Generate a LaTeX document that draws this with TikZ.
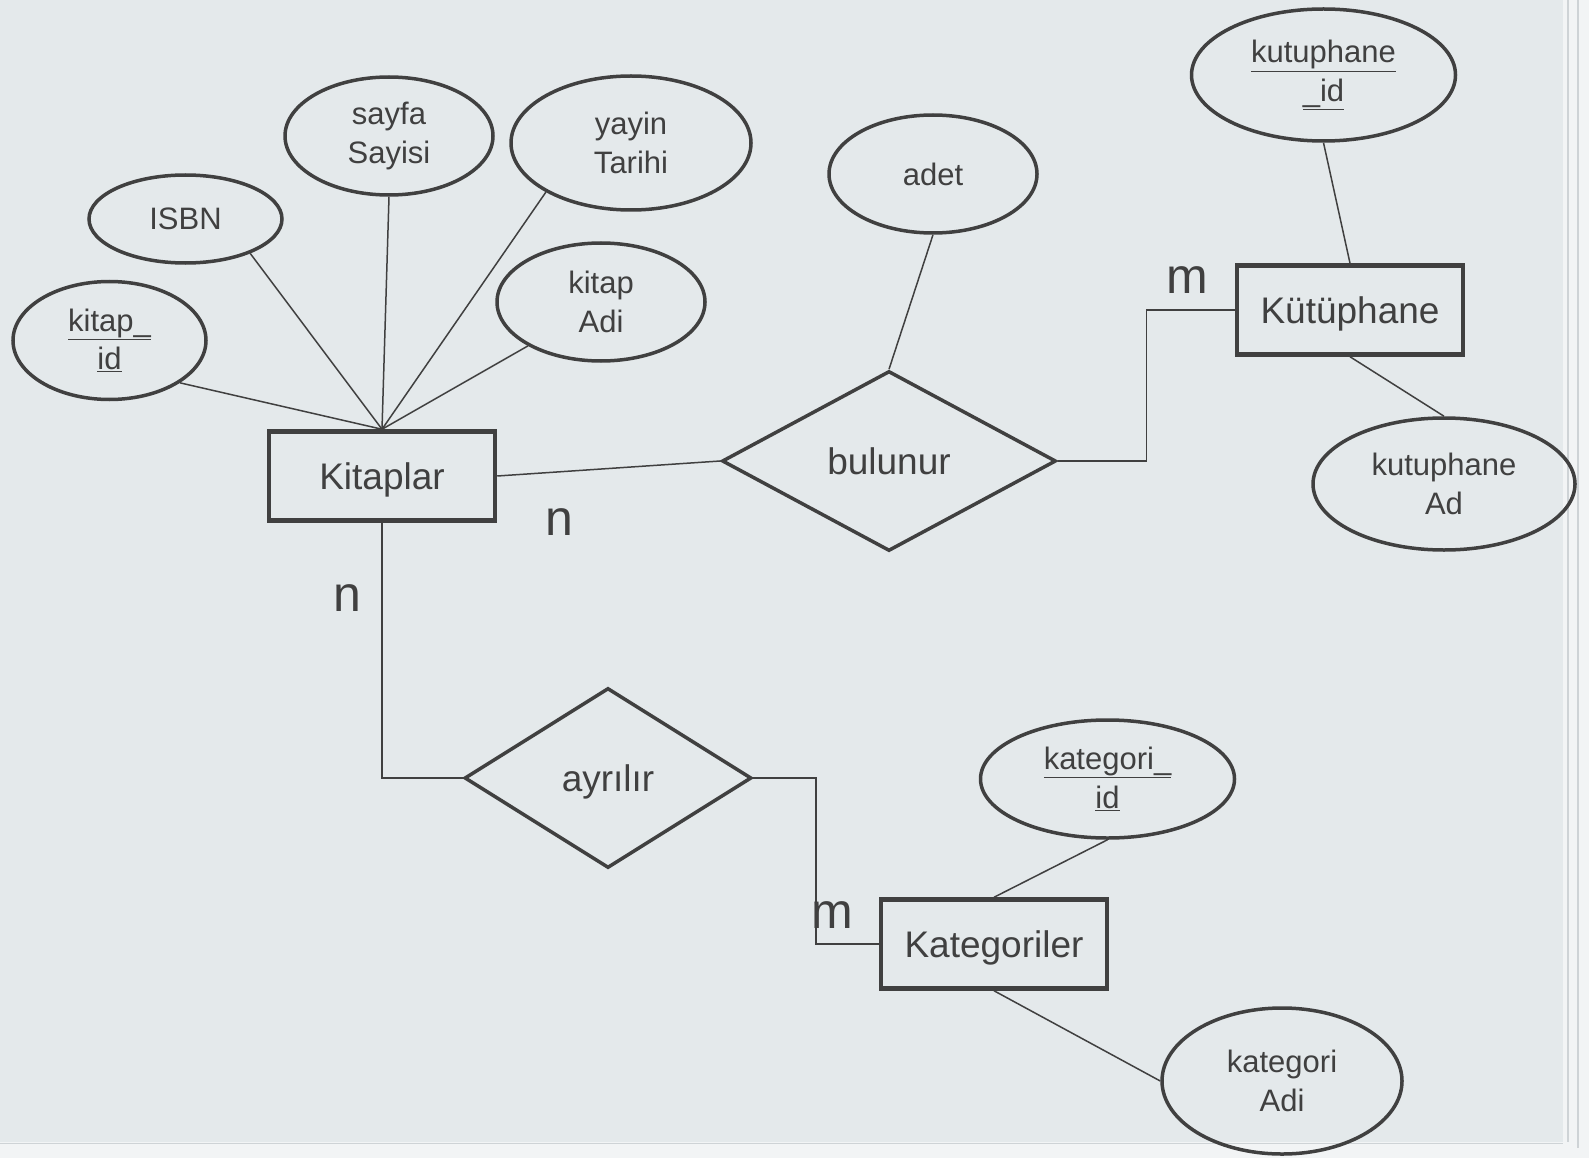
\documentclass[tikz,border=0pt]{standalone}
\usepackage{fontspec}
\setmainfont{Liberation Sans}
\usepackage{xcolor}
\usepackage{tikz}
\usetikzlibrary{shapes.geometric,calc}
\definecolor{ink}{RGB}{64,64,64}
\definecolor{panel}{RGB}{228,233,235}
\definecolor{paper}{RGB}{242,244,245}
\definecolor{rim}{RGB}{206,211,214}

\begin{document}
\begin{tikzpicture}[x=1pt,y=-1pt,
    attr/.style={draw=ink,line width=3.5pt,ellipse,inner sep=0pt,text=ink,align=center,font=\fontsize{31}{38.5}\selectfont},
    ent/.style={draw=ink,line width=4.5pt,rectangle,minimum width=226pt,minimum height=89pt,text depth=0pt,text=ink,font=\fontsize{37}{44}\selectfont},
    relbox/.style={draw=ink,line width=3.5pt,diamond,inner sep=0pt,text depth=0pt,text=ink,font=\fontsize{37}{44}\selectfont},
    card/.style={text=ink,inner sep=0pt,font=\fontsize{50}{60}\selectfont},
    link/.style={draw=ink,line width=1.5pt}]
  \useasboundingbox (0,0) rectangle (1589,1158);
  \fill[paper] (0,0) rectangle (1589,1158);
  \fill[panel] (0,0) rectangle (1563,1142);
  \draw[rim,line width=1.5pt] (1568,0) -- (1568,1142);
  \draw[rim,line width=1.5pt] (1578,0) -- (1578,1148);
  \draw[rim,line width=1pt] (0,1143) -- (1563,1143);

  \begin{scope}
    \node[ent] (kit) at (382,476) {Kitaplar};
    \node[attr,minimum width=193pt,minimum height=118pt] (kid) at (109.5,340.5) {\underline{kitap\_}\\\underline{id}};
    \node[attr,minimum width=193pt,minimum height=88pt] (isbn) at (185.5,219) {ISBN};
    \node[attr,minimum width=208pt,minimum height=118pt] (say) at (389,136) {sayfa\\Sayisi};
    \node[attr,minimum width=240pt,minimum height=134pt] (yay) at (631,143) {yayin\\Tarihi};
    \node[attr,minimum width=208pt,minimum height=118pt] (kad) at (601,302) {kitap\\Adi};
    \draw[link] (kid.-31) -- (kit.north);
    \draw[link] (isbn.-28) -- (kit.north);
    \draw[link] (say.south) -- (kit.north);
    \draw[link] (yay.210) -- (kit.north);
    \draw[link] (kad.211) -- (kit.north);
  \end{scope}

  \begin{scope}
    \node[relbox,minimum width=334pt,minimum height=180pt] (bul) at (889,461) {bulunur};
    \node[attr,minimum width=208pt,minimum height=118pt] (adet) at (933,174) {adet};
    \draw[link] (adet.south) -- (bul.north);
    \draw[link] (kit.east) -- (bul.west);
  \end{scope}

  \begin{scope}
    \node[ent] (kut) at (1350,310) {Kütüphane};
    \node[attr,minimum width=264pt,minimum height=132pt] (kuid) at (1323.5,75) {\underline{kutuphane}\\\underline{\_id}};
    \node[attr,minimum width=262pt,minimum height=132pt] (kuad) at (1444,484) {kutuphane\\Ad};
    \draw[link] (kuid.south) -- (kut.north);
    \draw[link] (kut.south) -- (kuad.north);
    \draw[link] (bul.east) -| ($(bul.east)!.5!(kut.west)$) |- (kut.west);
  \end{scope}

  \begin{scope}
    \node[relbox,minimum width=287pt,minimum height=180pt] (ayr) at (608,778) {ayrılır};
    \node[ent] (kat) at (994,944) {Kategoriler};
    \node[attr,minimum width=254pt,minimum height=118pt] (kaid) at (1107.5,779) {\underline{kategori\_}\\\underline{id}};
    \node[attr,minimum width=240pt,minimum height=146pt] (kaad) at (1282,1081) {kategori\\Adi};
    \draw[link] (kit.south) |- (ayr.west);
    \draw[link] (ayr.east) -| ($(ayr.east)!.5!(kat.west)$) |- (kat.west);
    \draw[link] (kaid.south) -- (kat.north);
    \draw[link] (kat.south) -- (kaad.west);
  \end{scope}

  \node[card] (n1) at (559,522) {n};
  \node[card] (n2) at (347.6,598) {n};
  \node[card] (m1) at (1187,280) {m};
  \node[card] (m2) at (832,915) {m};
\end{tikzpicture}
\end{document}
